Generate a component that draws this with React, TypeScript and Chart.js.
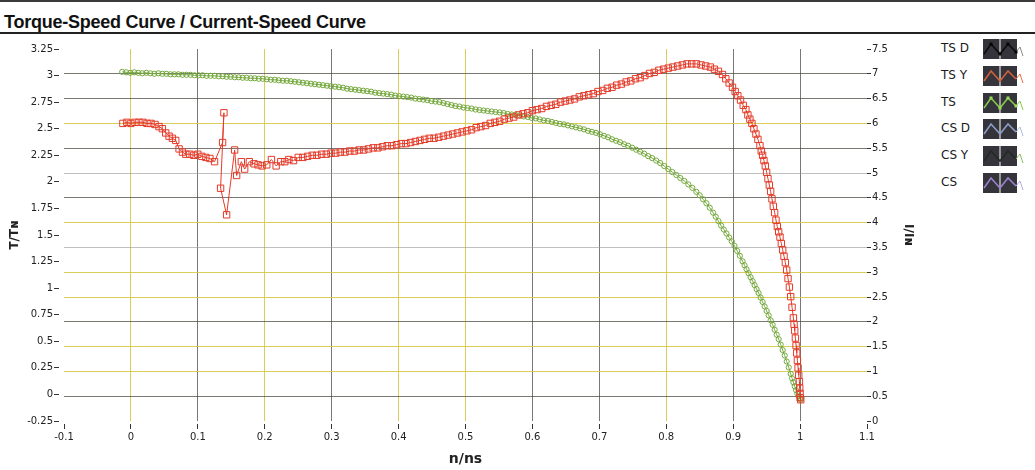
import React, { useEffect, useRef } from "react";
import { Chart, registerables } from "chart.js";

Chart.register(...registerables);

// Torque-speed curve (Y connection): [n/ns, T/TN]
const tsyCurve: [number, number][] = [
  [-0.012, 2.55], [-0.006, 2.56], [0.0, 2.55], [0.006, 2.56], [0.012, 2.56], [0.018, 2.56],
  [0.024, 2.55], [0.03, 2.55], [0.036, 2.54], [0.042, 2.52], [0.047, 2.5], [0.052, 2.46],
  [0.057, 2.43], [0.062, 2.41], [0.067, 2.39], [0.072, 2.31], [0.077, 2.28], [0.082, 2.26],
  [0.088, 2.26], [0.094, 2.25], [0.1, 2.26], [0.106, 2.24], [0.112, 2.23], [0.118, 2.22],
  [0.125, 2.19], [0.137, 2.37], [0.139, 2.65], [0.134, 1.94], [0.143, 1.69], [0.155, 2.3],
  [0.158, 2.06], [0.165, 2.19], [0.17, 2.12], [0.177, 2.19], [0.184, 2.17], [0.19, 2.16],
  [0.196, 2.15], [0.203, 2.16], [0.21, 2.21], [0.217, 2.15], [0.224, 2.19], [0.23, 2.19],
  [0.236, 2.21], [0.243, 2.2], [0.25, 2.23],
  [0.257, 2.23], [0.264, 2.24], [0.271, 2.25], [0.278, 2.25], [0.285, 2.26], [0.292, 2.26],
  [0.299, 2.27], [0.306, 2.27], [0.313, 2.28], [0.32, 2.28], [0.327, 2.29], [0.334, 2.29],
  [0.341, 2.3], [0.348, 2.3], [0.355, 2.31], [0.362, 2.32], [0.369, 2.32], [0.376, 2.33],
  [0.383, 2.34], [0.39, 2.34], [0.397, 2.35], [0.404, 2.36], [0.411, 2.36], [0.418, 2.37],
  [0.425, 2.38], [0.432, 2.39], [0.439, 2.4], [0.446, 2.41], [0.453, 2.41], [0.46, 2.42],
  [0.467, 2.43], [0.474, 2.44], [0.481, 2.45], [0.488, 2.46], [0.495, 2.47], [0.502, 2.48],
  [0.509, 2.49], [0.516, 2.51], [0.523, 2.52], [0.53, 2.53], [0.537, 2.55], [0.544, 2.56],
  [0.551, 2.57], [0.558, 2.59], [0.565, 2.6], [0.572, 2.61], [0.579, 2.63], [0.586, 2.64],
  [0.593, 2.65], [0.6, 2.67], [0.607, 2.68], [0.614, 2.69], [0.621, 2.71], [0.628, 2.72],
  [0.635, 2.73], [0.642, 2.75], [0.649, 2.76], [0.656, 2.77], [0.663, 2.78], [0.67, 2.8],
  [0.677, 2.81], [0.684, 2.82], [0.691, 2.83], [0.698, 2.85], [0.705, 2.86], [0.712, 2.88],
  [0.719, 2.89], [0.726, 2.91], [0.733, 2.92], [0.74, 2.94], [0.747, 2.95], [0.754, 2.97],
  [0.761, 2.98], [0.768, 3.0], [0.775, 3.02], [0.782, 3.03], [0.789, 3.05], [0.796, 3.06],
  [0.803, 3.07], [0.81, 3.08], [0.817, 3.09], [0.824, 3.1], [0.831, 3.11], [0.838, 3.11],
  [0.845, 3.11], [0.852, 3.1], [0.859, 3.09], [0.866, 3.08], [0.872, 3.06], [0.878, 3.04],
  [0.884, 3.01], [0.889, 2.97], [0.894, 2.93], [0.899, 2.89], [0.903, 2.85], [0.907, 2.81],
  [0.911, 2.77], [0.915, 2.72], [0.919, 2.68], [0.922, 2.63], [0.925, 2.59], [0.928, 2.55],
  [0.931, 2.5], [0.934, 2.45], [0.937, 2.4], [0.94, 2.34], [0.942, 2.29], [0.944, 2.25],
  [0.946, 2.2], [0.948, 2.15], [0.95, 2.09], [0.952, 2.03], [0.954, 1.97], [0.956, 1.91],
  [0.958, 1.84], [0.96, 1.77], [0.962, 1.71], [0.964, 1.64], [0.966, 1.58], [0.968, 1.53],
  [0.97, 1.48], [0.972, 1.42], [0.974, 1.36], [0.976, 1.3], [0.978, 1.24], [0.98, 1.17],
  [0.982, 1.09], [0.984, 1.01], [0.986, 0.92], [0.988, 0.82], [0.99, 0.72], [0.991, 0.66],
  [0.992, 0.6], [0.993, 0.53], [0.994, 0.46], [0.995, 0.39], [0.996, 0.32], [0.997, 0.25],
  [0.998, 0.18], [0.999, 0.12], [0.9995, 0.06], [1.0, 0.01], [1.0, -0.03], [1.001, -0.05],
];

// Current-speed curve (Y connection): [n/ns, I/IN]
const csyCurve: [number, number][] = [
  [-0.013, 7.04], [-0.007, 7.03], [-0.001, 7.02], [0.005, 7.03], [0.011, 7.02], [0.017, 7.01],
  [0.023, 7.02], [0.029, 7.01], [0.035, 7.0], [0.041, 7.01], [0.047, 7.0], [0.053, 7.0],
  [0.059, 6.99], [0.065, 6.99], [0.071, 6.99], [0.077, 6.98], [0.083, 6.98], [0.089, 6.98],
  [0.095, 6.97], [0.101, 6.97], [0.107, 6.97], [0.113, 6.96], [0.119, 6.96], [0.125, 6.96],
  [0.131, 6.95], [0.137, 6.95], [0.143, 6.94], [0.149, 6.94], [0.155, 6.93], [0.161, 6.93],
  [0.167, 6.92], [0.173, 6.92], [0.179, 6.91], [0.185, 6.91], [0.191, 6.9], [0.197, 6.9],
  [0.203, 6.89], [0.209, 6.88], [0.215, 6.88], [0.221, 6.87], [0.227, 6.86], [0.233, 6.86],
  [0.239, 6.85], [0.245, 6.84], [0.251, 6.83], [0.257, 6.82], [0.263, 6.81], [0.269, 6.8],
  [0.275, 6.79], [0.281, 6.78], [0.287, 6.77], [0.293, 6.76], [0.299, 6.75], [0.305, 6.74],
  [0.311, 6.73], [0.317, 6.72], [0.323, 6.7], [0.329, 6.69], [0.335, 6.68], [0.341, 6.67],
  [0.347, 6.66], [0.353, 6.65], [0.359, 6.64], [0.365, 6.62], [0.371, 6.61], [0.377, 6.6],
  [0.383, 6.59], [0.389, 6.58], [0.395, 6.56], [0.401, 6.55], [0.407, 6.54], [0.413, 6.53],
  [0.419, 6.52], [0.425, 6.5], [0.431, 6.49], [0.437, 6.48], [0.443, 6.47], [0.449, 6.45],
  [0.455, 6.44], [0.461, 6.43], [0.467, 6.41], [0.473, 6.39], [0.479, 6.37], [0.485, 6.35],
  [0.491, 6.34], [0.497, 6.32], [0.503, 6.31], [0.509, 6.3], [0.515, 6.28], [0.521, 6.27],
  [0.527, 6.26], [0.533, 6.25], [0.539, 6.24], [0.545, 6.23], [0.551, 6.22], [0.557, 6.21],
  [0.563, 6.19], [0.569, 6.18], [0.575, 6.17], [0.581, 6.16], [0.587, 6.14], [0.593, 6.13],
  [0.599, 6.11], [0.605, 6.1], [0.611, 6.08], [0.617, 6.06], [0.623, 6.05], [0.629, 6.03],
  [0.635, 6.01], [0.641, 5.99], [0.647, 5.98], [0.653, 5.96], [0.659, 5.94], [0.665, 5.92],
  [0.671, 5.9], [0.677, 5.88], [0.683, 5.85], [0.689, 5.83], [0.695, 5.81], [0.701, 5.78],
  [0.707, 5.75], [0.713, 5.72], [0.719, 5.68], [0.725, 5.65], [0.731, 5.62], [0.737, 5.58],
  [0.743, 5.55], [0.749, 5.51], [0.755, 5.47], [0.761, 5.43], [0.767, 5.39], [0.773, 5.34],
  [0.779, 5.3], [0.785, 5.25], [0.791, 5.2], [0.797, 5.14], [0.803, 5.08], [0.809, 5.02],
  [0.815, 4.96], [0.821, 4.9], [0.827, 4.84], [0.833, 4.77], [0.839, 4.7], [0.845, 4.62],
  [0.85, 4.55], [0.855, 4.47], [0.86, 4.39], [0.865, 4.3], [0.87, 4.2], [0.874, 4.12],
  [0.878, 4.03], [0.882, 3.94], [0.886, 3.86], [0.89, 3.78], [0.894, 3.7], [0.898, 3.62],
  [0.902, 3.53], [0.906, 3.43], [0.91, 3.33], [0.914, 3.22], [0.917, 3.14], [0.92, 3.06],
  [0.923, 2.98], [0.926, 2.9], [0.929, 2.82], [0.932, 2.74], [0.935, 2.66], [0.938, 2.58],
  [0.941, 2.49], [0.944, 2.4], [0.947, 2.31], [0.95, 2.22], [0.953, 2.13], [0.956, 2.03],
  [0.959, 1.94], [0.962, 1.84], [0.965, 1.74], [0.968, 1.65], [0.971, 1.54], [0.974, 1.43],
  [0.977, 1.32], [0.98, 1.2], [0.983, 1.08], [0.986, 0.95], [0.988, 0.86], [0.99, 0.78],
  [0.992, 0.7], [0.994, 0.62], [0.996, 0.55], [0.998, 0.5], [1.0, 0.46], [1.001, 0.43],
];

const legendLabels = ["TS D", "TS Y", "TS", "CS D", "CS Y", "CS"];

// Axis ranges
const speedMin = -0.1;
const speedMax = 1.1;
const torqueMin = -0.25;
const torqueMax = 3.25;
const currentMin = 0;
const currentMax = 7.5;

// Grid line tints (printed look: some yellow, some dark)
const YEL = "rgba(214,200,70,0.9)";
const DRK = "rgba(70,68,60,0.72)";
const GRY = "rgba(150,150,150,0.6)";
const verticalTint: Record<number, string> = {
  0: YEL, 1: DRK, 2: YEL, 3: DRK, 4: YEL, 5: YEL, 6: DRK, 7: DRK, 8: YEL, 9: DRK, 10: DRK,
};
const horizontalTint: Record<number, string> = {
  14: DRK, 13: DRK, 12: YEL, 11: DRK, 10: GRY, 9: DRK, 8: YEL, 7: GRY, 6: YEL, 5: YEL,
  4: DRK, 3: YEL, 2: YEL, 1: DRK,
};

const thumbStyles = [
  { line: "#0c0c0c", tail: "#8a8a8a", dots: "#050505" },
  { line: "#d0603a", tail: "#e07048", dots: "" },
  { line: "#86c84a", tail: "#86c84a", dots: "#9ad85a" },
  { line: "#8c9cc6", tail: "#b0bce0", dots: "" },
  { line: "#232a22", tail: "#8cc060", dots: "" },
  { line: "#9a82cc", tail: "#b8a8e0", dots: "" },
];

const tickFont = { family: '"DejaVu Sans", sans-serif', size: 10 };
const fmt = (v: number | string) => String(Number(Number(v).toFixed(2)));

function Thumb({ idx, top }: { idx: number; top: number }) {
  const s = thumbStyles[idx];
  return (
    <svg width={46} height={22} style={{ position: "absolute", left: 983, top }}>
      <rect x={0} y={0} width={16.5} height={20} fill="#35343b" />
      <rect x={17.5} y={0} width={16.5} height={20} fill="#35343b" />
      <polyline
        points="1,15 8,5 17,15 25,5 33,13"
        fill="none"
        stroke={s.line}
        strokeWidth={1.6}
      />
      <polyline points="33,13 37,8 40,17" fill="none" stroke={s.tail} strokeWidth={1} />
      {s.dots
        ? [
            [8, 5],
            [17, 15],
            [25, 5],
            [33, 13],
          ].map(([x, y], i) => (
            <rect key={i} x={x - 1.5} y={y - 1.5} width={3} height={3} fill={s.dots} />
          ))
        : null}
    </svg>
  );
}

export default function App() {
  const canvasRef = useRef<HTMLCanvasElement>(null);

  useEffect(() => {
    const canvas = canvasRef.current;
    if (!canvas) return;
    const chart = new Chart(canvas, {
      type: "line",
      data: {
        datasets: [
          {
            label: "TS Y",
            data: tsyCurve.map(([x, y]) => ({ x, y })),
            yAxisID: "y",
            borderColor: "rgb(228,58,40)",
            borderWidth: 1,
            pointStyle: "rect",
            pointRadius: 4.5,
            pointBorderWidth: 1,
            pointBorderColor: "rgb(228,58,40)",
            pointBackgroundColor: "rgba(255,255,255,0)",
            tension: 0,
            fill: false,
          },
          {
            label: "CS Y",
            data: csyCurve.map(([x, y]) => ({ x, y })),
            yAxisID: "y1",
            borderColor: "rgb(116,168,60)",
            borderWidth: 1,
            pointStyle: "circle",
            pointRadius: 2.6,
            pointBorderWidth: 1,
            pointBorderColor: "rgb(116,168,60)",
            pointBackgroundColor: "rgba(255,255,255,0)",
            tension: 0,
            fill: false,
          },
        ],
      },
      options: {
        responsive: false,
        animation: false,
        layout: { padding: { top: 14, left: 0, right: 0, bottom: 0 } },
        plugins: {
          legend: { display: false },
          tooltip: { enabled: false },
        },
        scales: {
          x: {
            type: "linear",
            min: speedMin,
            max: speedMax,
            afterFit: (s: any) => {
              s.height = 49;
            },
            border: { display: false },
            grid: {
              drawOnChartArea: true,
              drawTicks: true,
              tickLength: 8,
              tickBorderDash: [0, 3, 5, 40],
              tickColor: "#333",
              lineWidth: 1,
              color: (ctx: any) => {
                const k = Math.round(ctx.tick.value * 10);
                return verticalTint[k] || "rgba(0,0,0,0)";
              },
            },
            ticks: {
              stepSize: 0.1,
              autoSkip: false,
              maxRotation: 0,
              padding: 2,
              color: "#222",
              font: tickFont,
              callback: (v: any) => fmt(v),
            },
            title: {
              display: true,
              text: "n/ns",
              color: "#222",
              font: { family: '"DejaVu Sans", sans-serif', size: 14, weight: "bold" },
              padding: { top: 0, bottom: 2 },
            },
          },
          y: {
            type: "linear",
            position: "left",
            min: torqueMin,
            max: torqueMax,
            afterFit: (s: any) => {
              s.width = 64;
            },
            border: { display: false },
            grid: {
              drawOnChartArea: false,
              drawTicks: true,
              tickLength: 10,
              tickBorderDash: [5, 40],
              tickColor: "#333",
            },
            ticks: {
              stepSize: 0.25,
              autoSkip: false,
              padding: 1,
              color: "#222",
              font: tickFont,
              callback: (v: any) => fmt(v),
            },
            title: {
              display: true,
              text: "T/Tɴ",
              color: "#222",
              font: { family: '"DejaVu Sans", sans-serif', size: 12, weight: "bold" },
              padding: { top: 8, bottom: 0 },
            },
          },
          y1: {
            type: "linear",
            position: "right",
            min: currentMin,
            max: currentMax,
            afterFit: (s: any) => {
              s.width = 63;
            },
            border: { display: false },
            grid: {
              drawOnChartArea: true,
              drawTicks: true,
              tickLength: 4,
              tickColor: "#333",
              lineWidth: 1,
              color: (ctx: any) => {
                const k = Math.round(ctx.tick.value * 2);
                return horizontalTint[k] || "rgba(0,0,0,0)";
              },
            },
            ticks: {
              stepSize: 0.5,
              autoSkip: false,
              padding: 1,
              color: "#222",
              font: tickFont,
              callback: (v: any) => fmt(v),
            },
            title: {
              display: true,
              text: "I/Iɴ",
              color: "#222",
              font: { family: '"DejaVu Sans", sans-serif', size: 12, weight: "bold" },
              padding: { top: 15, bottom: 0 },
            },
          },
        },
      } as any,
    });
    return () => chart.destroy();
  }, []);

  const legendCenters = [48, 75, 102, 128, 155, 182];

  return (
    <div
      style={{
        position: "fixed",
        left: 0,
        top: 0,
        width: 1035,
        height: 470,
        background: "#ffffff",
        overflow: "hidden",
        fontFamily: '"DejaVu Sans", sans-serif',
      }}
    >
      <div style={{ position: "absolute", left: 0, top: 0, width: 1035, height: 2, background: "#3a3a3a" }} />
      <div
        style={{
          position: "absolute",
          left: 4,
          top: 13,
          font: 'bold 18px "Liberation Sans", Arial, sans-serif',
          lineHeight: "18px",
          letterSpacing: "-0.25px",
          color: "#111",
          whiteSpace: "nowrap",
        }}
      >
        Torque-Speed Curve / Current-Speed Curve
      </div>
      <div style={{ position: "absolute", left: 0, top: 32, width: 1035, height: 1.5, background: "#222" }} />
      <canvas
        ref={canvasRef}
        width={930}
        height={435}
        style={{ position: "absolute", left: 0, top: 35, width: 930, height: 435, display: "block" }}
      />
      {legendLabels.map((label, i) => (
        <React.Fragment key={label}>
          <div
            style={{
              position: "absolute",
              left: 941,
              top: legendCenters[i] - 8,
              fontSize: 12,
              lineHeight: "16px",
              color: "#1a1a1a",
              whiteSpace: "nowrap",
            }}
          >
            {label}
          </div>
          <Thumb idx={i} top={legendCenters[i] - 9} />
        </React.Fragment>
      ))}
    </div>
  );
}
